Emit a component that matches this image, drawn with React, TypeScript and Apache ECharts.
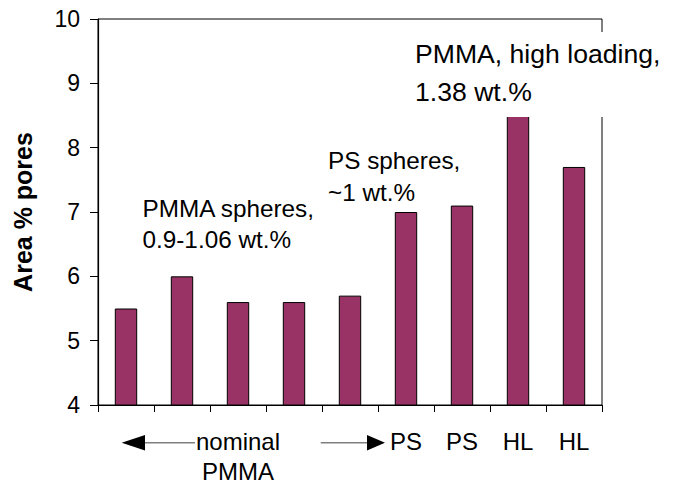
import React, { useEffect, useRef } from "react";
import * as echarts from "echarts";

const categories = ["", "", "nominal\nPMMA", "", "", "PS", "PS", "HL", "HL"];
const areaPores = [5.5, 6.0, 5.6, 5.6, 5.7, 7.0, 7.1, 8.5, 7.7];
const yTicks = { min: 4, max: 10, interval: 1 };

const annotations = [
  { text: "PMMA spheres,\n0.9-1.06 wt.%", x: 142.5, y: 192.5, lineHeight: 31.5, size: 24.3 },
  { text: "PS spheres,\n~1 wt.%", x: 328, y: 145, lineHeight: 31.5, size: 24.3 },
  { text: "PMMA, high loading,\n1.38 wt.%", x: 415, y: 35, lineHeight: 38, size: 26.6 },
];

const FONT = '"Liberation Sans", Arial, Helvetica, sans-serif';

export default function App() {
  const ref = useRef<HTMLDivElement>(null);
  useEffect(() => {
    if (!ref.current) return;
    const chart = echarts.init(ref.current, null, { renderer: "svg" });
    chart.setOption({
      animation: false,
      backgroundColor: "#ffffff",
      textStyle: { fontFamily: FONT, color: "#000" },
      grid: {
        left: 98,
        right: 72,
        top: 19,
        bottom: 80,
        show: true,
        borderColor: "#000",
        borderWidth: 1,
        backgroundColor: "transparent",
      },
      xAxis: {
        type: "category",
        data: categories,
        boundaryGap: true,
        axisLine: { lineStyle: { color: "#000", width: 1.2 } },
        axisTick: { show: true, length: 7, inside: false, lineStyle: { color: "#000" } },
        axisLabel: {
          interval: 0,
          color: "#000",
          fontSize: 24,
          fontFamily: FONT,
          lineHeight: 30,
          margin: 21,
        },
        splitLine: { show: false },
      },
      yAxis: {
        type: "value",
        min: yTicks.min,
        max: yTicks.max,
        interval: yTicks.interval,
        name: "Area % pores",
        nameLocation: "middle",
        nameGap: 63,
        nameTextStyle: { fontSize: 25, fontWeight: "bold", color: "#000", fontFamily: FONT },
        axisLine: { show: true, lineStyle: { color: "#000", width: 1.2 } },
        axisTick: { show: true, length: 8, lineStyle: { color: "#000" } },
        axisLabel: { color: "#000", fontSize: 23, fontFamily: FONT, margin: 18 },
        splitLine: { show: false },
      },
      series: [
        {
          type: "bar",
          data: areaPores,
          barWidth: "40%",
          itemStyle: { color: "#993366", borderColor: "#000", borderWidth: 1 },
        },
      ],
      graphic: [
        {
          type: "rect",
          z: 100,
          shape: { x: 408, y: 32, width: 262, height: 85 },
          style: { fill: "#ffffff" },
        },
        ...annotations.map((a) => ({
          type: "text",
          z: 101,
          x: a.x,
          y: a.y,
          style: {
            text: a.text,
            font: `${a.size}px ${FONT}`,
            fill: "#000",
            lineHeight: a.lineHeight,
            textVerticalAlign: "top",
            verticalAlign: "top",
          },
        })),
        {
          type: "line",
          z: 100,
          shape: { x1: 145, y1: 442.7, x2: 195, y2: 442.7 },
          style: { stroke: "#808080", lineWidth: 1.5 },
        },
        {
          type: "polygon",
          z: 100,
          shape: { points: [[121.7, 442.7], [145, 435], [145, 450.5]] },
          style: { fill: "#000" },
        },
        {
          type: "line",
          z: 100,
          shape: { x1: 320.7, y1: 442.7, x2: 367, y2: 442.7 },
          style: { stroke: "#808080", lineWidth: 1.5 },
        },
        {
          type: "polygon",
          z: 100,
          shape: { points: [[385, 442.7], [367, 435], [367, 450.5]] },
          style: { fill: "#000" },
        },
      ],
    });
    return () => chart.dispose();
  }, []);
  return (
    <div
      ref={ref}
      style={{ position: "fixed", left: 0, top: 0, width: 674, height: 486 }}
    />
  );
}
